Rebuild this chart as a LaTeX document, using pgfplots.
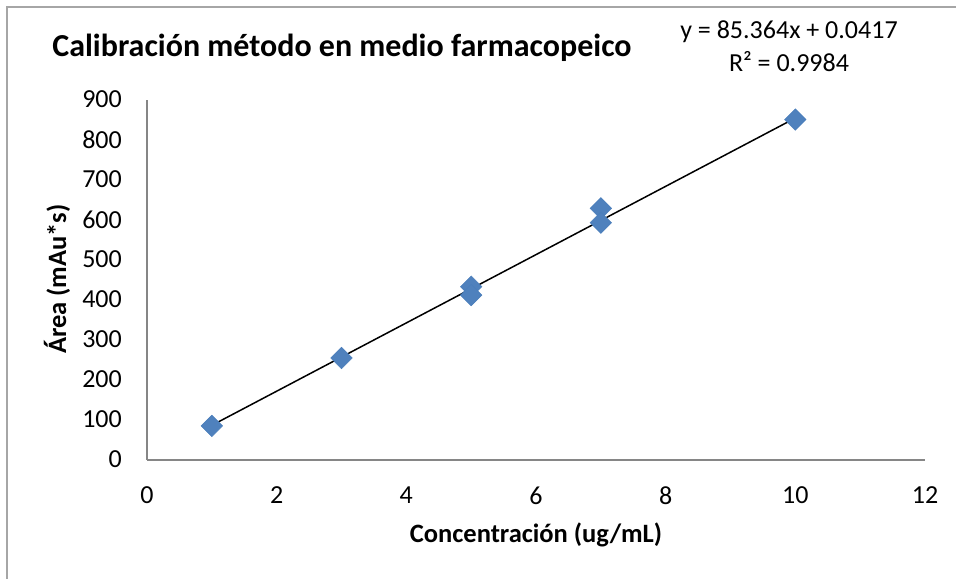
\documentclass[border=0pt]{standalone}
\usepackage{pgfplots}
\pgfplotsset{compat=1.18}
\usepackage{fontspec}
\setmainfont{Carlito}

\definecolor{axisgray}{HTML}{868686}
\definecolor{framegray}{HTML}{A6A6A6}
\definecolor{markblue}{HTML}{4F81BD}
\definecolor{markedge}{HTML}{4A7EBB}

\newcommand\tickfont{\fontsize{26bp}{33bp}\selectfont}
\newcommand\labelfont{\fontsize{26.5bp}{32bp}\selectfont\bfseries}
\newcommand\titlefont{\fontsize{32bp}{38bp}\selectfont\bfseries}

\begin{document}
\begin{tikzpicture}
\useasboundingbox (0,0) rectangle (956bp,-579bp);
% chart frame (top and left edges)
\draw[framegray, line width=1.2bp] (7bp,-579bp) -- (7bp,-7bp) -- (956bp,-7bp);

\begin{axis}[
  at={(147bp,-459.5bp)}, anchor=south west,
  scale only axis, width=778bp, height=360bp,
  xmin=0, xmax=12, ymin=0, ymax=900,
  xtick={0,2,...,12}, ytick={0,100,...,900},
  axis x line*=bottom, axis y line*=left,
  axis line style={axisgray, line width=2bp, -},
  major tick length=0pt,
  tick style={draw=none},
  /pgf/number format/assume math mode=true,
  ticklabel style={font=\tickfont, inner sep=0pt},
  yticklabel style={anchor=east, xshift=-25bp},
  xticklabel style={anchor=north, yshift=-27bp},
  clip=false,
]
% linear fit y = 85.364x + 0.0417 over the measured range
\addplot[black, line width=1.5bp, mark=none] coordinates {(1,85.4057) (10,853.6817)};
\addplot[only marks, mark=square*, mark size=7.6bp,
  mark options={rotate=45, fill=markblue, draw=markedge, line width=0.5bp}]
  coordinates {
    (1,84) (3,254) (5,432) (5,411) (7,628) (7,592) (10,850)
  };
\end{axis}

\node[font=\titlefont, anchor=center] at (342bp,-48bp) {Calibración método en medio farmacopeico};
\node[font=\tickfont, align=center, anchor=center] at (789bp,-46bp) {y = 85.364x + 0.0417\\R² = 0.9984};
\node[font=\labelfont, anchor=center] at (536bp,-535bp) {Concentración (ug/mL)};
\node[font=\labelfont, anchor=center, rotate=90] at (57bp,-279bp) {Área (mAu*s)};
\end{tikzpicture}
\end{document}
